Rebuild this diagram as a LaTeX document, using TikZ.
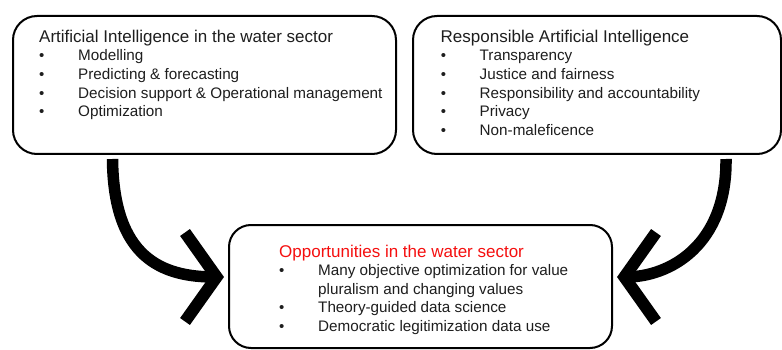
\documentclass[tikz,border=0pt]{standalone}
\usepackage{fontspec}
\setmainfont{Liberation Sans}
\usetikzlibrary{calc}
\definecolor{txt}{HTML}{1E1E1E}
\definecolor{oppred}{HTML}{F50F0F}
\begin{document}
\begin{tikzpicture}[x=1pt,y=-1pt,
  box/.style={draw=black, line width=2pt, rounded corners=24pt, inner sep=0pt, fill=white},
  ttl/.style={anchor=base west, inner sep=0pt, text=txt, font=\fontsize{17}{20}\selectfont},
  itm/.style={anchor=base west, inner sep=0pt, text=txt, font=\fontsize{15.25}{18}\selectfont},
  bul/.style={anchor=base west, inner sep=0pt, text=txt, font=\fontsize{15}{18}\selectfont},
  stem/.style={line width=11.5pt, line cap=butt},
  chev/.style={line width=12pt, line join=miter, line cap=butt}]
\useasboundingbox (0,0) rectangle (782,350);
\fill[white] (0,0) rectangle (782,350);
% boxes
\node[box, minimum width=383pt, minimum height=138pt] (ai) at (204.5,85) {};
\node[box, minimum width=368pt, minimum height=138pt] (rai) at (597,85) {};
\node[box, minimum width=383pt, minimum height=123pt, rounded corners=22pt] (opp) at (420.5,286.5) {};
% left box text
\node[ttl] (aiT) at (39,43) {Artificial Intelligence in the water sector};
\node[bul] (aib1) at (39,61) {•};
\node[bul] (aib2) at (39,79.6) {•};
\node[bul] (aib3) at (39,98.2) {•};
\node[bul] (aib4) at (39,116.8) {•};
\node[itm] (ai1) at (78,61) {Modelling};
\node[itm] (ai2) at (78,79.6) {Predicting \& forecasting};
\node[itm] (ai3) at (78,98.2) {Decision support \& Operational management};
\node[itm] (ai4) at (78,116.8) {Optimization};
% right box text
\node[ttl] (raiT) at (440.5,43) {Responsible Artificial Intelligence};
\node[bul] (raib1) at (440.7,61) {•};
\node[bul] (raib2) at (440.7,79.6) {•};
\node[bul] (raib3) at (440.7,98.2) {•};
\node[bul] (raib4) at (440.7,116.8) {•};
\node[bul] (raib5) at (440.7,135.4) {•};
\node[itm] (rai1) at (479.5,61) {Transparency};
\node[itm] (rai2) at (479.5,79.6) {Justice and fairness};
\node[itm] (rai3) at (479.5,98.2) {Responsibility and accountability};
\node[itm] (rai4) at (479.5,116.8) {Privacy};
\node[itm] (rai5) at (479.5,135.4) {Non-maleficence};
% bottom box text
\node[ttl, text=oppred] (oppT) at (279,257) {Opportunities in the water sector};
\node[bul] (oppb1) at (279,275.6) {•};
\node[bul] (oppb2) at (279,312.8) {•};
\node[bul] (oppb3) at (279,331.4) {•};
\node[itm] (opp1) at (318,275.6) {Many objective optimization for value};
\node[itm] (opp1b) at (318,294.2) {pluralism and changing values};
\node[itm] (opp2) at (318,312.8) {Theory-guided data science};
\node[itm] (opp3) at (318,331.4) {Democratic legitimization data use};
% arrow coordinates
\coordinate (ls) at ($(ai.south west)+(100.5,4)$);
\coordinate (lt) at (215,277);
\coordinate (rs) at ($(rai.south west)+(314,4)$);
\coordinate (rt) at (626,277);
% left arrow
\draw[stem] (ls) .. controls (113.5,258) and (162,277) .. (lt);
\draw[chev] (185,232.5) -- (216.6,277) -- (185,321.5);
% right arrow
\draw[stem] (rs) .. controls (727,245) and (670,277) .. (rt);
\draw[chev] (656,232.5) -- (624.4,277) -- (656,321.5);
\end{tikzpicture}
\end{document}
